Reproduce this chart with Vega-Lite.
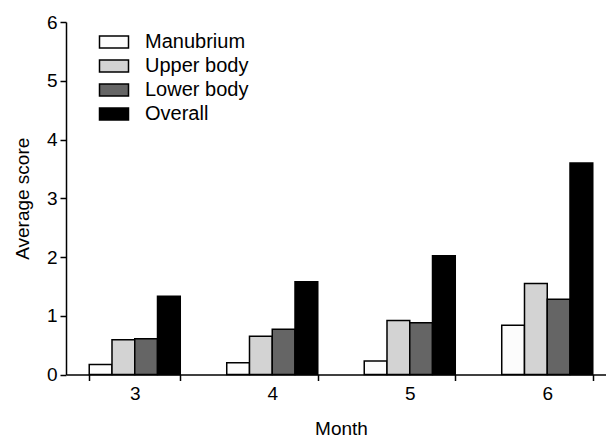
{
  "$schema": "https://vega.github.io/schema/vega-lite/v6.json",
  "autosize": "none",
  "width": 540,
  "height": 352.5,
  "padding": {"left": 66, "top": 22, "right": 0, "bottom": 64.5},
  "background": "white",
  "config": {
    "view": {"stroke": null},
    "font": "Liberation Sans",
    "axis": {"grid": false, "domainColor": "black", "tickColor": "black", "labelColor": "black", "titleColor": "black", "domainWidth": 1.5, "tickWidth": 1.5, "labelFont": "Liberation Sans", "titleFont": "Liberation Sans", "titleFontWeight": "normal"}
  },
  "data": {
    "values": [
      {"Month": "3", "Region": "Manubrium", "Score": 0.17},
      {"Month": "3", "Region": "Upper body", "Score": 0.59},
      {"Month": "3", "Region": "Lower body", "Score": 0.61},
      {"Month": "3", "Region": "Overall", "Score": 1.33},
      {"Month": "4", "Region": "Manubrium", "Score": 0.2},
      {"Month": "4", "Region": "Upper body", "Score": 0.65},
      {"Month": "4", "Region": "Lower body", "Score": 0.77},
      {"Month": "4", "Region": "Overall", "Score": 1.58},
      {"Month": "5", "Region": "Manubrium", "Score": 0.23},
      {"Month": "5", "Region": "Upper body", "Score": 0.92},
      {"Month": "5", "Region": "Lower body", "Score": 0.88},
      {"Month": "5", "Region": "Overall", "Score": 2.02},
      {"Month": "6", "Region": "Manubrium", "Score": 0.84},
      {"Month": "6", "Region": "Upper body", "Score": 1.55},
      {"Month": "6", "Region": "Lower body", "Score": 1.28},
      {"Month": "6", "Region": "Overall", "Score": 3.6}
    ]
  },
  "mark": {"type": "bar", "stroke": "black", "strokeWidth": 1.5},
  "encoding": {
    "x": {
      "field": "Month", "type": "nominal",
      "scale": {"range": [0, 550], "paddingInner": 0.338, "paddingOuter": 0.169},
      "axis": {"title": "Month", "labelAngle": 0, "labelFontSize": 19, "titleFontSize": 19, "tickBand": "extent", "tickSize": 6, "labelPadding": 4, "titlePadding": 16}
    },
    "xOffset": {"field": "Region", "type": "nominal", "sort": ["Manubrium", "Upper body", "Lower body", "Overall"]},
    "y": {
      "field": "Score", "type": "quantitative",
      "scale": {"domain": [0, 6], "nice": false},
      "axis": {"title": "Average score", "values": [0, 1, 2, 3, 4, 5, 6], "labelFontSize": 19, "titleFontSize": 19, "tickSize": 6, "labelPadding": 3, "titlePadding": 14}
    },
    "color": {
      "field": "Region", "type": "nominal",
      "sort": ["Manubrium", "Upper body", "Lower body", "Overall"],
      "scale": {"domain": ["Manubrium", "Upper body", "Lower body", "Overall"], "range": ["#fcfcfc", "#d3d3d3", "#656565", "#000000"]},
      "legend": {
        "title": null, "orient": "none", "legendX": 37, "legendY": 9,
        "symbolType": "M-1.45,-0.6L1.45,-0.6L1.45,0.6L-1.45,0.6Z",
        "symbolSize": 400, "symbolStrokeColor": "black", "symbolStrokeWidth": 1.5, "symbolOpacity": 1,
        "labelFontSize": 20, "labelColor": "black", "labelOffset": 20, "rowPadding": 3, "padding": 0
      }
    }
  }
}
